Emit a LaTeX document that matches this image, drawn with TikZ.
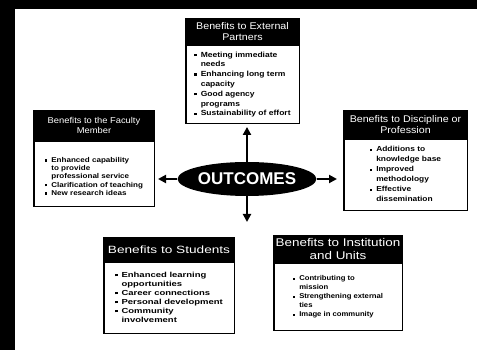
\documentclass[tikz,border=0pt]{standalone}
\usepackage{fontspec}
\setmainfont{Liberation Sans}
\newfontfamily\fsA[FakeStretch=1.1]{Liberation Sans}
\newfontfamily\fsB[FakeStretch=1.15]{Liberation Sans}
\newfontfamily\fsC[FakeStretch=1.2]{Liberation Sans}
\newfontfamily\fsD[FakeStretch=1.3]{Liberation Sans}
\usetikzlibrary{shapes.geometric,arrows.meta}
\newcommand{\bsq}{\rule[0.8pt]{2.4pt}{2.4pt}}
\newcommand{\blist}[1]{\begin{tabular}{@{}l@{\hspace{4pt}}l@{}}#1\end{tabular}}
\begin{document}
\begin{tikzpicture}[x=1pt,y=1pt,
  hdr/.style={fill=black, text=white, inner sep=0pt, align=center},
  bodybox/.style={draw=black, line width=1.5pt, fill=white, inner sep=0pt, anchor=north},
  arr/.style={line width=2.2pt, -{Triangle[length=8pt,width=8pt]}}]
\useasboundingbox (0,0) rectangle (477,350);
\fill[white] (0,0) rectangle (477,350);
\fill[black] (0,341) rectangle (477,350);
\fill[black] (0,0) rectangle (15,350);

% External partners
\node[hdr, minimum width=115, minimum height=27,
  font=\fsA\fontsize{9.7}{11.5}\selectfont] (ext-h) at (242.5,318.5)
  {Benefits to External\\Partners};
\node[bodybox, minimum width=113.5, minimum height=78.5,
  font=\fsB\bfseries\fontsize{7.4}{9.8}\selectfont] (ext-b) at ([yshift=0.75pt]ext-h.south)
  {\blist{\bsq & Meeting immediate\\ & needs\\ \bsq & Enhancing long term\\ & capacity\\
   \bsq & Good agency\\ & programs\\ \bsq & Sustainability of effort}};

% Faculty member
\node[hdr, minimum width=122, minimum height=31,
  font=\fsA\fontsize{8.5}{10}\selectfont] (fac-h) at (94,224.5)
  {Benefits to the Faculty\\Member};
\node[bodybox, minimum width=120.5, minimum height=65.5, text depth=12pt,
  font=\fsB\bfseries\fontsize{7}{8.2}\selectfont] (fac-b) at ([yshift=0.75pt]fac-h.south)
  {\blist{\bsq & Enhanced capability\\ & to provide\\ & professional service\\
   \bsq & Clarification of teaching\\ \bsq & New research ideas}};

% Discipline
\node[hdr, minimum width=125, minimum height=29,
  font=\fsA\fontsize{9.7}{11}\selectfont] (dis-h) at (405.5,225.5)
  {Benefits to Discipline or\\Profession};
\node[bodybox, minimum width=123.5, minimum height=71.5,
  font=\fsB\bfseries\fontsize{7.3}{10}\selectfont] (dis-b) at ([yshift=0.75pt]dis-h.south)
  {\blist{\bsq & Additions to\\ & knowledge base\\ \bsq & Improved\\ & methodology\\
   \bsq & Effective\\ & dissemination}};

% Students
\node[hdr, minimum width=132, minimum height=25,
  font=\fsD\fontsize{10.5}{12}\selectfont] (stu-h) at (169,100.5)
  {Benefits to Students};
\node[bodybox, minimum width=130.5, minimum height=71.5,
  font=\fsD\bfseries\fontsize{7.3}{9}\selectfont] (stu-b) at ([yshift=0.75pt]stu-h.south)
  {\blist{\bsq & Enhanced learning\\ & opportunities\\ \bsq & Career connections\\
   \bsq & Personal development\\ \bsq & Community\\ & involvement}};

% Institution
\node[hdr, minimum width=130, minimum height=28,
  font=\fsC\fontsize{11.2}{13}\selectfont] (ins-h) at (338,101)
  {Benefits to Institution\\and Units};
\node[bodybox, minimum width=128.5, minimum height=67.5,
  font=\fsA\bfseries\fontsize{7}{9}\selectfont] (ins-b) at ([yshift=0.75pt]ins-h.south)
  {\blist{\bsq & Contributing to\\ & mission\\ \bsq & Strengthening external\\ & ties\\
   \bsq & Image in community}};

% Outcomes
\node[ellipse, fill=black, text=white, minimum width=120, minimum height=34, inner sep=0pt,
  font=\bfseries\fontsize{17}{17}\selectfont] (out) at (247,171) {OUTCOMES};
\coordinate (dn) at (247,128);

\draw[arr, shorten >=2.5pt] (out.north) -- (out.north |- ext-b.south);
\draw[arr, shorten >=3pt] (out.west) -- (out.west -| fac-b.east);
\draw[arr, shorten >=6pt] (out.east) -- (out.east -| dis-b.west);
\draw[arr] (out.south) -- (dn);
\end{tikzpicture}
\end{document}
